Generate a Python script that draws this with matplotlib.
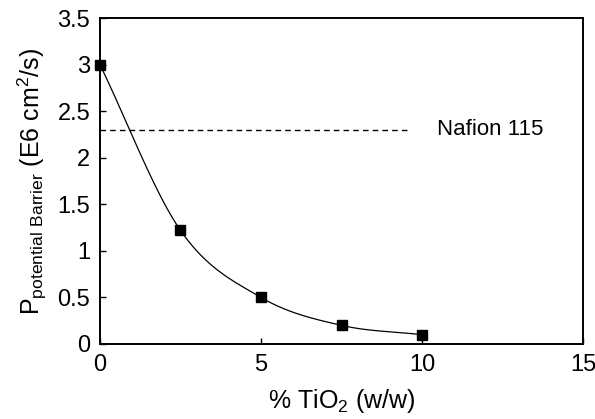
import numpy as np
import matplotlib.pyplot as plt

plt.rcParams['font.family'] = ['Liberation Sans', 'DejaVu Sans']
plt.rcParams['mathtext.fontset'] = 'custom'
plt.rcParams['mathtext.rm'] = 'Liberation Sans'
plt.rcParams['mathtext.default'] = 'regular'

# data
tio2 = [0, 2.5, 5, 7.5, 10]
perm = [3.0, 1.22, 0.5, 0.2, 0.1]
nafion_level = 2.3
nafion_x = [0, 9.6]


def smooth(xs, ys, n=40):
    # Catmull-Rom style smoothing like a spreadsheet "smoothed line"
    p = np.column_stack([xs, ys]).astype(float)
    p = np.vstack([2 * p[0] - p[1], p, 2 * p[-1] - p[-2]])
    out = []
    t = np.linspace(0, 1, n)[:, None]
    for i in range(1, len(p) - 2):
        p0, p1, p2, p3 = p[i - 1], p[i], p[i + 1], p[i + 2]
        seg = 0.5 * ((2 * p1) + (-p0 + p2) * t + (2 * p0 - 5 * p1 + 4 * p2 - p3) * t ** 2
                     + (-p0 + 3 * p1 - 3 * p2 + p3) * t ** 3)
        out.append(seg)
    out = np.vstack(out)
    return out[:, 0], out[:, 1]


fig = plt.figure(figsize=(5.95, 4.19), dpi=100)
ax = fig.add_axes([0.168, 0.179, 0.812, 0.778])

sx, sy = smooth(tio2, perm)
ax.plot(sx, sy, color='black', lw=0.9)
ax.plot(tio2, perm, 's', color='black', ms=7, clip_on=False, zorder=5)
ax.plot(nafion_x, [nafion_level] * 2, '--', color='black', lw=1.0, dashes=(4, 3))
ax.text(10.45, nafion_level, 'Nafion 115', fontsize=16, va='center', ha='left')

ax.set_xlim(0, 15)
ax.set_ylim(0, 3.5)
ax.set_xticks([0, 5, 10, 15])
ax.set_yticks(np.arange(0, 3.51, 0.5))
ax.set_yticklabels(['0', '0.5', '1', '1.5', '2', '2.5', '3', '3.5'])
ax.tick_params(direction='in', labelsize=17, length=4, width=1, pad=7)
for s in ax.spines.values():
    s.set_linewidth(1.4)

ax.set_xlabel('% TiO$_2$ (w/w)', fontsize=18, labelpad=8)
ax.set_ylabel('P$_{potential\\ Barrier}$ (E6 cm$^2$/s)', fontsize=18, labelpad=6)

fig.savefig('out.png', dpi=100)
